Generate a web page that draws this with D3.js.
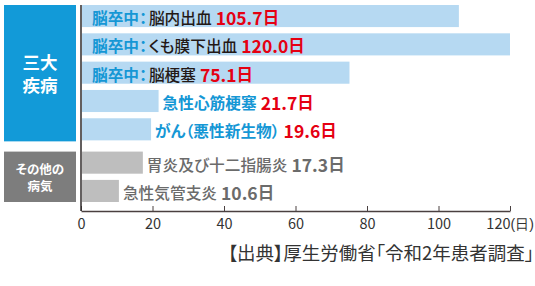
<!DOCTYPE html>
<html>
<head>
<meta charset="utf-8">
<script src="https://cdn.jsdelivr.net/npm/d3@7"></script>
<style>
  body { margin: 0; background: #fff; }
  svg { display: block; font-family: "Noto Sans CJK JP", "Noto Sans", sans-serif; }
  .palt { font-feature-settings: "palt"; }
</style>
</head>
<body>
<svg id="svg" width="535" height="286"></svg>
<script>
const categories = ["脳内出血", "くも膜下出血", "脳梗塞", "急性心筋梗塞", "がん（悪性新生物）", "胃炎及び十二指腸炎", "急性気管支炎"];
const prefixes = ["脳卒中：", "脳卒中：", "脳卒中：", "", "", "", ""];
const days = [105.7, 120.0, 75.1, 21.7, 19.6, 17.3, 10.6];
const groups = ["big3", "big3", "big3", "big3", "big3", "other", "other"];
const groupLabels = { big3: ["三大", "疾病"], other: ["その他の", "病気"] };
const xTicks = [0, 20, 40, 60, 80, 100, 120];
const source = "【出典】厚生労働省「令和2年患者調査」";

const margin = { top: 5, left: 81, right: 25, bottom: 74 };
const width = 535, height = 286;
const groupGap = 5;

const blue = "#1597d5", red = "#e50012", dark = "#231815", grayText = "#6b6b6b";

const svg = d3.select("#svg");

const xScale = d3.scaleLinear()
    .domain([0, 120])
    .range([margin.left, width - margin.right]);

const yScale = d3.scaleBand()
    .domain(categories)
    .range([margin.top, 197])
    .paddingInner(0.22)
    .paddingOuter(0);

function yPos(d, i) {
    return yScale(d) + (groups[i] === "other" ? groupGap : 0);
}

// group boxes on the left
const groupNames = ["big3", "other"];
groupNames.forEach(function(g) {
    const idx = d3.range(categories.length).filter(i => groups[i] === g);
    const y0 = yPos(categories[idx[0]], idx[0]);
    const y1 = yPos(categories[idx[idx.length - 1]], idx[idx.length - 1]) + yScale.bandwidth();
    svg.append("rect")
        .attr("x", 4).attr("y", y0)
        .attr("width", 72).attr("height", y1 - y0 + (g === "big3" ? 1 : 0))
        .attr("fill", g === "big3" ? "#129ad8" : "#7d7d7d");
    const lines = groupLabels[g];
    const fs = g === "big3" ? 17.5 : 12.5;
    const lh = g === "big3" ? 23 : 17.5;
    const cy = (y0 + y1) / 2;
    lines.forEach(function(t, k) {
        svg.append("text")
            .attr("class", "palt")
            .attr("x", 40)
            .attr("y", cy + (k - (lines.length - 1) / 2) * lh)
            .attr("text-anchor", "middle")
            .attr("dominant-baseline", "central")
            .attr("fill", "#fff")
            .attr("font-weight", "bold")
            .attr("font-size", fs)
            .text(t);
    });
});

// bars
svg.append("g").selectAll("rect")
    .data(categories)
    .join("rect")
    .attr("x", xScale(0) + 1)
    .attr("y", (d, i) => yPos(d, i))
    .attr("width", (d, i) => xScale(days[i]) - xScale(0) - 1)
    .attr("height", yScale.bandwidth())
    .attr("fill", (d, i) => groups[i] === "big3" ? "#b6d9f2" : "#bebebe");

// labels
const labels = svg.append("g").selectAll("text")
    .data(categories)
    .join("text")
    .attr("class", "palt")
    .attr("x", (d, i) => days[i] > 50 ? xScale(0) + 11 : xScale(days[i]) + 4)
    .attr("y", (d, i) => yPos(d, i) + yScale.bandwidth() / 2 + 1)
    .attr("dominant-baseline", "central")
    .attr("font-size", 15.7)
    .attr("font-weight", (d, i) => groups[i] === "big3" ? "bold" : 500);

labels.each(function(d, i) {
    const t = d3.select(this);
    if (prefixes[i]) {
        t.append("tspan").attr("fill", blue).text(prefixes[i]);
        t.append("tspan").attr("fill", dark).attr("font-weight", 500).attr("dx", 2).text(d);
    } else {
        t.append("tspan").attr("fill", groups[i] === "big3" ? blue : grayText).text(d);
    }
    const valColor = groups[i] === "big3" ? red : grayText;
    t.append("tspan")
        .attr("fill", valColor)
        .attr("font-weight", "bold")
        .attr("font-size", 17.5)
        .text(" " + days[i].toFixed(1));
    t.append("tspan")
        .attr("fill", valColor)
        .attr("font-weight", "bold")
        .attr("font-size", 16.5)
        .text("日");
});

// axes
const xAxisCall = d3.axisBottom(xScale)
    .tickValues(xTicks)
    .tickSizeInner(-5)
    .tickSizeOuter(0)
    .tickPadding(8)
    .tickFormat(d3.format("d"));

const axisY = height - margin.bottom - 1;
const xAxis = svg.append("g")
    .attr("class", "x axis")
    .attr("transform", "translate(0," + axisY + ")")
    .call(xAxisCall);

xAxis.select(".domain").attr("stroke", "#4a4040").attr("stroke-width", 1.5);
xAxis.selectAll(".tick line").attr("stroke", "#4a4040");
xAxis.selectAll(".tick text")
    .attr("font-family", "\"Noto Sans CJK JP\", sans-serif")
    .attr("font-size", 14.5)
    .attr("fill", "#333");

const lastTick = xAxis.selectAll(".tick").filter(d => d === 120);
lastTick.select("text").attr("text-anchor", "end").attr("x", 0);
lastTick.append("text")
    .attr("class", "palt")
    .attr("x", 0).attr("y", 8).attr("dy", "0.71em")
    .attr("text-anchor", "start")
    .attr("font-size", 14)
    .attr("fill", "#333")
    .text("(日)");

svg.append("line")
    .attr("x1", xScale(0)).attr("x2", xScale(0))
    .attr("y1", margin.top).attr("y2", axisY)
    .attr("stroke", "#2f2a2a")
    .attr("stroke-width", 1.5);

// source
svg.append("text")
    .attr("class", "palt")
    .attr("x", 534)
    .attr("y", 252)
    .attr("text-anchor", "end")
    .attr("dominant-baseline", "central")
    .attr("font-size", 18.5)
    .attr("fill", "#333")
    .text(source);
</script>
</body>
</html>
